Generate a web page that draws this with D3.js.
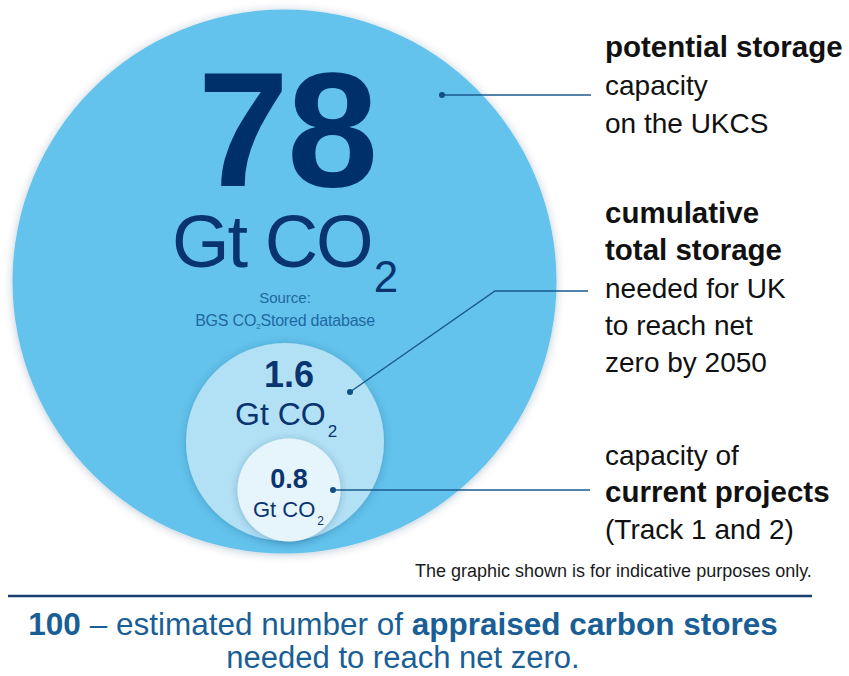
<!DOCTYPE html>
<html>
<head>
<meta charset="utf-8">
<script src="https://cdn.jsdelivr.net/npm/d3@7/dist/d3.min.js"></script>
<style>
  html, body { margin: 0; padding: 0; background: #ffffff; }
  svg { display: block; font-family: "Liberation Sans", Arial, Helvetica, sans-serif; }
</style>
</head>
<body>
<svg id="chart" width="849" height="676"></svg>
<script>
// ---- data ----
const categories = ["potential", "cumulative", "current"];
const values = [78, 1.6, 0.8];
const valueLabels = ["78", "1.6", "0.8"];
const unitMain = "Gt CO";
const unitSub = "2";
const sourceLines = ["Source:", "BGS CO", "2", "Stored database"];
const labelLines = [
  [["potential storage", true]], [["capacity", false]], [["on the UKCS", false]]
];
const labelLines2 = [
  [["cumulative", true]], [["total storage", true]], [["needed for UK", false]], [["to reach net", false]], [["zero by 2050", false]]
];
const labelLines3 = [
  [["capacity of", false]], [["current projects", true]], [["(Track 1 and 2)", false]]
];
const disclaimer = "The graphic shown is for indicative purposes only.";
const footerLine1 = [["100", true], [" \u2013 estimated number of ", false], ["appraised carbon stores", true]];
const footerLine2 = "needed to reach net zero.";

// ---- layout ----
const svg = d3.select("#chart");
const navy = "#0a3470";
const lineCol = "#1b5a8f";

// indicative radius scale (graphic is not proportional)
const rScale = d3.scaleLog().domain([0.8, 1.6, 78]).range([51.5, 99, 272]);
const centers = [[284.5, 281.5], [285, 442], [289, 490]];
const fills = ["#63c3ec", "#b2e1f5", "#e6f4fb"];

const defs = svg.append("defs");
const f = defs.append("filter").attr("id", "sh").attr("x", "-20%").attr("y", "-20%").attr("width", "140%").attr("height", "140%");
f.append("feDropShadow").attr("dx", 0).attr("dy", 1).attr("stdDeviation", 4)
  .attr("flood-color", "#0b3b66").attr("flood-opacity", 0.28);

const circles = categories.map((c, i) => ({ c, v: values[i], cx: centers[i][0], cy: centers[i][1], fill: fills[i] }));

svg.append("g").selectAll("circle").data(circles).join("circle")
  .attr("cx", d => d.cx).attr("cy", d => d.cy)
  .attr("r", d => rScale(d.v))
  .attr("fill", d => d.fill)
  .attr("filter", "url(#sh)");

// big circle texts
svg.append("text").attr("x", 287).attr("y", 186).attr("text-anchor", "middle")
  .attr("font-size", 164).attr("font-weight", "bold").attr("fill", "#00306a")
  .attr("letter-spacing", -2).text(valueLabels[0]);

function unitText(x, y, fs, subFs, dy, ls) {
  const t = svg.append("text").attr("x", x).attr("y", y).attr("fill", navy)
    .attr("font-size", fs).attr("letter-spacing", ls);
  t.append("tspan").text(unitMain);
  t.append("tspan").attr("font-size", subFs).attr("dx", 2).attr("dy", dy).text(unitSub);
  return t;
}
unitText(172, 267, 74, 44, 25, -2);

svg.append("text").attr("x", 285).attr("y", 303).attr("text-anchor", "middle")
  .attr("font-size", 15).attr("fill", "#1f68a2").text(sourceLines[0]);
const src = svg.append("text").attr("x", 285).attr("y", 326).attr("text-anchor", "middle")
  .attr("font-size", 16).attr("fill", "#1f68a2").attr("letter-spacing", -0.2);
src.append("tspan").text(sourceLines[1]);
src.append("tspan").attr("font-size", 8).attr("dy", 3).text(sourceLines[2]);
src.append("tspan").attr("dy", -3).text(sourceLines[3]);

// medium circle texts
svg.append("text").attr("x", 289).attr("y", 387).attr("text-anchor", "middle")
  .attr("font-size", 36).attr("font-weight", "bold").attr("fill", navy).text(valueLabels[1]);
unitText(235, 425, 32, 17, 12, 0);

// small circle texts
svg.append("text").attr("x", 289).attr("y", 488).attr("text-anchor", "middle")
  .attr("font-size", 27).attr("font-weight", "bold").attr("fill", navy).text(valueLabels[2]);
unitText(253, 517, 22, 12, 8, 0);

// leader lines
const leaders = [
  [[442, 95], [591, 95]],
  [[350, 392], [495, 291], [588, 291]],
  [[333, 490], [590, 490]]
];
const line = d3.line();
svg.append("g").selectAll("path").data(leaders).join("path")
  .attr("d", d => line(d)).attr("fill", "none").attr("stroke", lineCol).attr("stroke-width", 1.5);
svg.append("g").selectAll("circle").data(leaders).join("circle")
  .attr("cx", d => d[0][0]).attr("cy", d => d[0][1]).attr("r", 3).attr("fill", "#0f4f86");

// right labels
function block(lines, x, y0, step) {
  const g = svg.append("g");
  lines.forEach((parts, i) => {
    const t = g.append("text").attr("x", x).attr("y", y0 + i * step).attr("fill", "#111111");
    parts.forEach(([s, b]) => t.append("tspan").attr("font-weight", b ? "bold" : "normal")
      .attr("font-size", b ? 29.5 : 28).text(s));
  });
}
block(labelLines, 605, 57, 38);
block(labelLines2, 605, 223, 37.3);
block(labelLines3, 605, 465, 37);

svg.append("text").attr("x", 415).attr("y", 577).attr("font-size", 18).attr("fill", "#1a1a1a")
  .text(disclaimer);

// footer
svg.append("line").attr("x1", 8).attr("x2", 812).attr("y1", 596).attr("y2", 596)
  .attr("stroke", "#173f6e").attr("stroke-width", 2.5);
const f1 = svg.append("text").attr("x", 403).attr("y", 635).attr("text-anchor", "middle")
  .attr("font-size", 31.5).attr("fill", "#1a5e96");
footerLine1.forEach(([s, b]) => f1.append("tspan").attr("font-weight", b ? "bold" : "normal").text(s));
svg.append("text").attr("x", 403).attr("y", 668).attr("text-anchor", "middle")
  .attr("font-size", 31).attr("fill", "#1a5e96").text(footerLine2);
</script>
</body>
</html>
